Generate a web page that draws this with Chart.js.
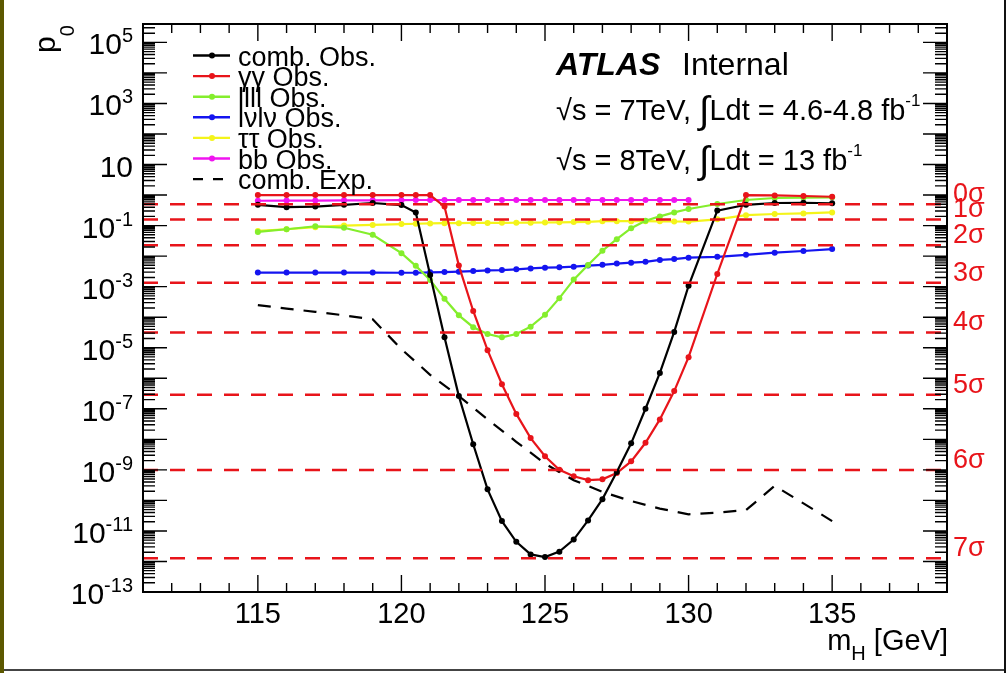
<!DOCTYPE html>
<html>
<head>
<meta charset="utf-8">
<title>p0 vs mH</title>
<script src="https://cdn.jsdelivr.net/npm/chart.js@4.4.0/dist/chart.umd.min.js"></script>
<style>
  html, body { margin: 0; padding: 0; background: #fff; }
  #wrap { width: 1007px; height: 673px; overflow: hidden; }
  canvas { display: block; }
</style>
</head>
<body>
<div id="wrap"><canvas id="p0plot" width="1007" height="673"></canvas></div>
<script>
// ---- data ----
var massObs = [115, 116, 117, 118, 119, 120, 120.5, 121, 121.5, 122, 122.5, 123, 123.5, 124, 124.5,
  125, 125.5, 126, 126.5, 127, 127.5, 128, 128.5, 129, 129.5, 130, 131, 132, 133, 134, 135];
var massExp = [115, 116, 117, 118, 119, 120, 121, 122, 123, 124, 125, 126, 127, 128, 129, 130,
  131, 132, 133, 134, 135];

var combObs = [0.48, 0.40, 0.42, 0.48, 0.55, 0.47, 0.27, 2.4e-3, 2.2e-5, 2.6e-7, 6.9e-9, 2.3e-10, 2.1e-11,
  4.4e-12, 1.7e-12, 1.4e-12, 2.1e-12, 5.2e-12, 2.2e-11, 1.1e-10, 8.5e-10, 7.4e-9, 1.0e-7, 1.5e-6,
  3.3e-5, 1.07e-3, 0.31, 0.48, 0.55, 0.56, 0.54];
var ggObs = [1.0, 1.0, 1.0, 1.0, 1.0, 1.0, 1.0, 1.0, 0.42, 4.9e-3, 1.6e-4, 8.3e-6, 6.4e-7, 6.8e-8, 1.1e-8,
  2.8e-9, 1.0e-9, 6.2e-10, 4.6e-10, 4.9e-10, 7.9e-10, 1.9e-9, 7.7e-9, 4.5e-8, 3.8e-7, 4.9e-6,
  2.6e-3, 1.0, 0.97, 0.93, 0.88];
var llllObs = [0.062, 0.076, 0.095, 0.085, 0.05, 0.0125, 4.8e-3, 1.66e-3, 4.0e-4, 1.15e-4, 4.7e-5, 2.8e-5,
  2.2e-5, 2.8e-5, 4.9e-5, 1.2e-4, 4.2e-4, 1.7e-3, 5.1e-3, 0.015, 0.036, 0.082, 0.145, 0.2, 0.27, 0.35,
  0.51, 0.69, 0.8, 0.83, 0.84];
var lvlvObs = [2.9e-3, 2.9e-3, 2.9e-3, 2.9e-3, 2.9e-3, 2.85e-3, 2.85e-3, 2.95e-3, 3.0e-3, 3.1e-3, 3.25e-3,
  3.4e-3, 3.5e-3, 3.7e-3, 3.95e-3, 4.2e-3, 4.3e-3, 4.5e-3, 4.9e-3, 5.2e-3, 5.7e-3, 6.1e-3, 6.5e-3,
  7.5e-3, 8.0e-3, 8.9e-3, 9.5e-3, 0.011, 0.013, 0.0147, 0.017];
var tautauObs = [0.067, 0.076, 0.089, 0.1, 0.105, 0.112, 0.115, 0.118, 0.12, 0.12, 0.122, 0.122, 0.123,
  0.124, 0.125, 0.126, 0.128, 0.13, 0.133, 0.14, 0.14, 0.14, 0.14, 0.138, 0.136, 0.135, 0.16, 0.22,
  0.24, 0.25, 0.27];
var bbObs = [0.65, 0.66, 0.66, 0.67, 0.67, 0.68, 0.69, 0.69, 0.69, 0.69, 0.69, 0.69, 0.69, 0.69, 0.69,
  0.69, 0.69, 0.69, 0.69, 0.69, 0.69, 0.69, 0.69, 0.69, 0.69, 0.69, null, null, null, null, null];
var combExp = [2.5e-4, 1.9e-4, 1.5e-4, 1.15e-4, 8.5e-5, 9e-6, 1.3e-6, 2.6e-7, 4.5e-8, 8.3e-9, 1.6e-9,
  4.6e-10, 1.9e-10, 9.5e-11, 5.4e-11, 3.5e-11, 4.0e-11, 4.8e-11, 3.0e-10, 8.0e-11, 2.1e-11];

var sigmaNames = ['0σ', '1σ', '2σ', '3σ', '4σ', '5σ', '6σ', '7σ'];
var sigmaP0 = [0.5, 0.1587, 0.02275, 1.35e-3, 3.17e-5, 2.87e-7, 9.87e-10, 1.28e-12];

var xTickLabels = [115, 120, 125, 130, 135];
var yTickExponents = [5, 3, 1, -1, -3, -5, -7, -9, -11, -13];

var FONT = "'Liberation Sans', Arial, Helvetica, sans-serif";
var RED = '#e8141a';

function pts(xs, ys) {
  var out = [];
  for (var i = 0; i < xs.length; i++) {
    if (ys[i] !== null) out.push({ x: xs[i], y: ys[i] });
  }
  return out;
}

function obsSet(label, xs, ys, color, order) {
  return {
    label: label, data: pts(xs, ys), borderColor: color, backgroundColor: color,
    borderWidth: 2.2, pointRadius: 3, pointBorderWidth: 0, pointBackgroundColor: color,
    tension: 0, order: order, legend: true
  };
}

var datasets = [
  obsSet('comb. Obs.', massObs, combObs, '#000000', 2),
  obsSet('γγ Obs.', massObs, ggObs, RED, 3),
  obsSet('llll Obs.', massObs, llllObs, '#84ee2c', 4),
  obsSet('lνlν Obs.', massObs, lvlvObs, '#1414f0', 5),
  obsSet('ττ Obs.', massObs, tautauObs, '#f4f41a', 6),
  obsSet('bb Obs.', massObs, bbObs, '#f014f0', 7),
  {
    label: 'comb. Exp.', data: pts(massExp, combExp), borderColor: '#000', borderWidth: 2.2,
    borderDash: [13, 10], pointRadius: 0, tension: 0, order: 1, legend: true, dashed: true
  }
];
sigmaP0.forEach(function (p) {
  datasets.push({
    label: '', data: [{ x: 111, y: p }, { x: 139, y: p }], borderColor: RED, borderWidth: 2.5,
    borderDash: [15, 12], pointRadius: 0, order: 0, legend: false
  });
});

// draw a run of text pieces with different fonts / offsets
function rich(ctx, parts, x, y, align) {
  var total = 0;
  parts.forEach(function (p) {
    ctx.font = p.font;
    p.w = ctx.measureText(p.t).width;
    total += p.w + (p.gap || 0);
  });
  var cx = align === 'right' ? x - total : x;
  parts.forEach(function (p) {
    ctx.font = p.font;
    ctx.fillText(p.t, cx, y + (p.dy || 0));
    cx += p.w + (p.gap || 0);
  });
}

var rootStyle = {
  id: 'rootStyle',
  beforeDraw: function (chart) {
    var ctx = chart.ctx;
    ctx.save();
    ctx.fillStyle = '#fff';
    ctx.fillRect(0, 0, chart.width, chart.height);
    ctx.fillStyle = '#5c5800';
    ctx.fillRect(0, 0, 4, chart.height);
    ctx.fillStyle = '#111';
    ctx.fillRect(1004, 0, 2, chart.height);
    ctx.fillStyle = '#444';
    ctx.fillRect(4, 669, 1000, 2);
    ctx.restore();
  },
  afterDraw: function (chart) {
    var ctx = chart.ctx, a = chart.chartArea;
    var xs = chart.scales.x, ys = chart.scales.y;
    ctx.save();
    ctx.strokeStyle = '#000';
    ctx.fillStyle = '#000';

    // frame
    ctx.lineWidth = 2;
    ctx.strokeRect(a.left, a.top, a.right - a.left, a.bottom - a.top);

    // x ticks, bottom and top, pointing inwards
    ctx.lineWidth = 1.4;
    ctx.beginPath();
    for (var v = xs.min; v <= xs.max; v++) {
      var px = xs.getPixelForValue(v);
      var len = v % 5 === 0 ? 17 : 9;
      ctx.moveTo(px, a.bottom); ctx.lineTo(px, a.bottom - len);
      ctx.moveTo(px, a.top); ctx.lineTo(px, a.top + len);
    }
    // y ticks, left and right
    for (var e = -13; e <= 6; e++) {
      for (var k = 1; k <= 9; k++) {
        var val = k * Math.pow(10, e);
        if (val < ys.min * 0.999 || val > ys.max) continue;
        var py = ys.getPixelForValue(val);
        var l = k === 1 ? 24 : 12;
        ctx.moveTo(a.left, py); ctx.lineTo(a.left + l, py);
        ctx.moveTo(a.right, py); ctx.lineTo(a.right - l, py);
      }
    }
    ctx.stroke();

    // x tick labels
    ctx.textAlign = 'center';
    ctx.textBaseline = 'alphabetic';
    ctx.font = '29px ' + FONT;
    xTickLabels.forEach(function (t) {
      ctx.fillText(String(t), xs.getPixelForValue(t), 623);
    });

    // y tick labels 10^n
    ctx.textAlign = 'left';
    yTickExponents.forEach(function (n) {
      var py = ys.getPixelForValue(Math.pow(10, n));
      if (n === 1) {
        rich(ctx, [{ t: '10', font: '30px ' + FONT }], 133, py + 12, 'right');
      } else {
        var ex = n < 0 ? '-' + Math.abs(n) : String(n);
        rich(ctx, [{ t: '10', font: '30px ' + FONT }, { t: ex, font: '20px ' + FONT, dy: -12 }],
          133, py + 12, 'right');
      }
    });

    // axis titles
    rich(ctx, [{ t: 'm', font: '29px ' + FONT }, { t: 'H', font: '20px ' + FONT, dy: 10 },
      { t: ' [GeV]', font: '29px ' + FONT }], 948, 650, 'right');
    ctx.save();
    ctx.translate(55, 53);
    ctx.rotate(-Math.PI / 2);
    rich(ctx, [{ t: 'p', font: '30px ' + FONT }, { t: '0', font: '20px ' + FONT, dy: 19 }], 0, 0, 'left');
    ctx.restore();

    // legend
    var row = 0;
    chart.data.datasets.forEach(function (ds) {
      if (!ds.legend) return;
      var y = 55.5 + row * 20.6;
      ctx.strokeStyle = ds.borderColor;
      ctx.lineWidth = 2.4;
      ctx.beginPath();
      if (ds.dashed) {
        ctx.moveTo(193, y); ctx.lineTo(203, y);
        ctx.moveTo(213, y); ctx.lineTo(223, y);
        ctx.stroke();
      } else {
        ctx.moveTo(193, y); ctx.lineTo(230, y);
        ctx.stroke();
        ctx.fillStyle = ds.borderColor;
        ctx.beginPath();
        ctx.arc(212, y, 3, 0, Math.PI * 2);
        ctx.fill();
      }
      ctx.fillStyle = '#000';
      ctx.font = '27px ' + FONT;
      ctx.fillText(ds.label, 238, y + 10);
      row++;
    });

    // ATLAS label and luminosity lines
    ctx.fillStyle = '#000';
    ctx.font = 'italic bold 32px ' + FONT;
    ctx.fillText('ATLAS', 556, 75);
    ctx.font = '32px ' + FONT;
    ctx.fillText('Internal', 682, 75);
    rich(ctx, [{ t: '√s = 7TeV, ', font: '29px ' + FONT },
      { t: '∫', font: '38px ' + FONT, dy: 3 },
      { t: 'Ldt = 4.6-4.8 fb', font: '29px ' + FONT },
      { t: '-1', font: '17px ' + FONT, dy: -14 }], 556, 120, 'left');
    rich(ctx, [{ t: '√s = 8TeV, ', font: '29px ' + FONT },
      { t: '∫', font: '38px ' + FONT, dy: 3 },
      { t: 'Ldt = 13 fb', font: '29px ' + FONT },
      { t: '-1', font: '17px ' + FONT, dy: -14 }], 556, 170, 'left');

    // sigma labels on the right
    ctx.fillStyle = RED;
    ctx.font = '27px ' + FONT;
    sigmaP0.forEach(function (p, i) {
      ctx.fillText(sigmaNames[i], 953, ys.getPixelForValue(p) - 2);
    });
    ctx.restore();
  }
};

var ctx = document.getElementById('p0plot');
var p0chart = new Chart(ctx, {
  type: 'line',
  data: { datasets: datasets },
  options: {
    responsive: false,
    animation: false,
    devicePixelRatio: 1,
    layout: { padding: { left: 143, top: 24, right: 60, bottom: 81 } },
    plugins: {
      legend: { display: false },
      tooltip: { enabled: false }
    },
    scales: {
      x: { type: 'linear', min: 111, max: 139, display: false },
      y: { type: 'logarithmic', min: 1e-13, max: 4e5, display: false }
    }
  },
  plugins: [rootStyle]
});
</script>
</body>
</html>
